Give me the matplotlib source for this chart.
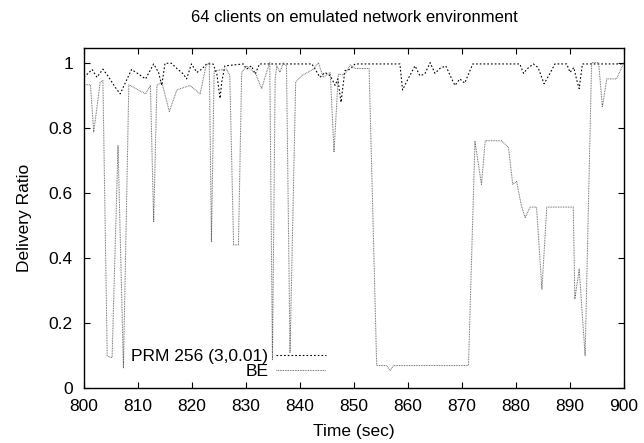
import matplotlib
matplotlib.use("Agg")
import matplotlib.pyplot as plt

plt.rcParams['font.family'] = ['Liberation Sans', 'DejaVu Sans']
plt.rcParams['lines.scale_dashes'] = False

# PRM 256 (3,0.01): time (sec), delivery ratio
prm_t = [800, 801.5, 802.4, 803.5, 804.6, 805.8, 806.7, 808.8, 810.1, 811.4,
         812.9, 813.8, 814.4, 815.0, 816.2, 817.2, 818.4, 819.0, 819.9, 820.9,
         821.8, 822.7, 823.9, 824.6, 825.2, 825.5, 826.1, 829.5, 830.1, 831.0,
         831.7, 832.5, 842.2, 842.8, 843.7, 844.6, 845.6, 846.5, 847.0, 847.6,
         848.3, 849.3, 850.2, 858.5, 859.0, 859.7, 861.3, 862.2, 863.1, 864.1,
         865.0, 865.9, 867.0, 868.1, 868.7, 869.6, 870.5, 872.0, 880.7, 881.4,
         882.0, 883.2, 884.1, 885.2, 886.3, 887.2, 889.4, 890.0, 890.7, 891.2,
         891.7, 892.3, 900]
prm_v = [0.955, 0.979, 0.955, 0.98, 0.955, 0.924, 0.904, 0.979, 0.965, 0.95,
         0.996, 0.97, 0.93, 0.998, 0.998, 0.982, 0.965, 0.95, 0.996, 0.97,
         0.98, 0.996, 0.996, 0.965, 0.89, 0.94, 0.99, 0.996, 0.98, 0.99,
         0.965, 0.996, 0.996, 0.98, 0.955, 0.97, 0.96, 0.93, 0.95, 0.878,
         0.975, 0.98, 0.996, 0.996, 0.916, 0.94, 0.99, 0.96, 0.965, 1.0,
         0.967, 0.982, 0.99, 0.95, 0.93, 0.95, 0.937, 0.996, 0.996, 0.967,
         0.98, 0.996, 0.985, 0.935, 0.967, 0.996, 0.996, 0.97, 0.985, 0.95,
         0.92, 0.996, 0.996]

# BE: time (sec), delivery ratio
be_t = [800, 801.2, 801.8, 803.0, 803.5, 804.3, 805.2, 806.3, 807.3, 808.3,
        811.4, 812.3, 812.9, 813.5, 814.4, 815.8, 817.2, 819.6, 821.5, 822.6,
        823.2, 823.6, 824.1, 826.4, 827.0, 827.7, 828.6, 829.2, 830.1, 831.1,
        831.7, 832.9, 833.8, 834.4, 834.9, 835.4, 835.7, 836.3, 836.9, 837.5,
        838.15, 839.2, 840.3, 842.5, 843.4, 844.3, 845.6, 846.3, 847.1, 848.0,
        848.6, 849.3, 850.2, 852.8, 854.2, 856.0, 856.7, 857.3, 871.2, 872.4,
        873.6, 874.3, 877.3, 878.6, 879.4, 880.1, 881.0, 881.7, 882.6, 883.8,
        884.8, 885.7, 890.6, 890.9, 891.7, 892.8, 894.0, 895.3, 896.0, 896.8,
        898.6, 900]
be_v = [0.932, 0.932, 0.787, 0.94, 0.945, 0.098, 0.093, 0.745, 0.062, 0.932,
        0.904, 0.93, 0.51, 0.93, 0.94, 0.85, 0.916, 0.93, 0.904, 0.99,
        1.0, 0.45, 0.975, 0.98, 0.96, 0.44, 0.44, 0.97, 0.99, 0.975,
        0.97, 0.92, 0.97, 1.0, 0.085, 0.95, 0.99, 0.97, 1.0, 0.99,
        0.108, 0.94, 0.96, 0.98, 1.0, 0.955, 0.97, 0.725, 0.965, 0.962,
        0.972, 0.993, 0.982, 0.982, 0.069, 0.069, 0.054, 0.069, 0.069, 0.758,
        0.626, 0.76, 0.76, 0.74, 0.626, 0.635, 0.56, 0.523, 0.556, 0.556,
        0.304, 0.556, 0.556, 0.274, 0.365, 0.10, 1.0, 1.0, 0.863, 0.95,
        0.95, 1.0]

x_ticks = list(range(800, 901, 10))
y_ticks = [0, 0.2, 0.4, 0.6, 0.8, 1]
y_labels = ["0", "0.2", "0.4", "0.6", "0.8", "1"]

fig = plt.figure(figsize=(6.44, 4.43), dpi=100)
ax = fig.add_axes([84 / 644, 1 - 388 / 443, 540 / 644, 340 / 443])

ax.plot(prm_t, prm_v, color="black", lw=0.8, dashes=(1.2, 1.5),
        label="PRM 256 (3,0.01)")
ax.plot(be_t, be_v, color="0.4", lw=0.75, dashes=(0.6, 0.6), label="BE")

ax.set_xlim(800, 900)
ax.set_ylim(0, 1.045)
ax.set_xticks(x_ticks)
ax.set_yticks(y_ticks)
ax.set_yticklabels(y_labels)
ax.tick_params(direction="in", top=True, right=True, length=4.5, width=0.8,
               labelsize=12.5, pad=8)
for s in ax.spines.values():
    s.set_linewidth(1.0)

ax.set_title("64 clients on emulated network environment", fontsize=12, pad=19)
ax.set_xlabel("Time (sec)", fontsize=12.5, labelpad=7)
ax.set_ylabel("Delivery Ratio", fontsize=12.5, labelpad=12)

ax.legend(loc="center right", bbox_to_anchor=(0.449, 0.07), frameon=False,
          markerfirst=False, fontsize=12.5, handlelength=2.9, handletextpad=0.45,
          labelspacing=0.0, borderpad=0, borderaxespad=0)

fig.savefig("out.png", dpi=100)
